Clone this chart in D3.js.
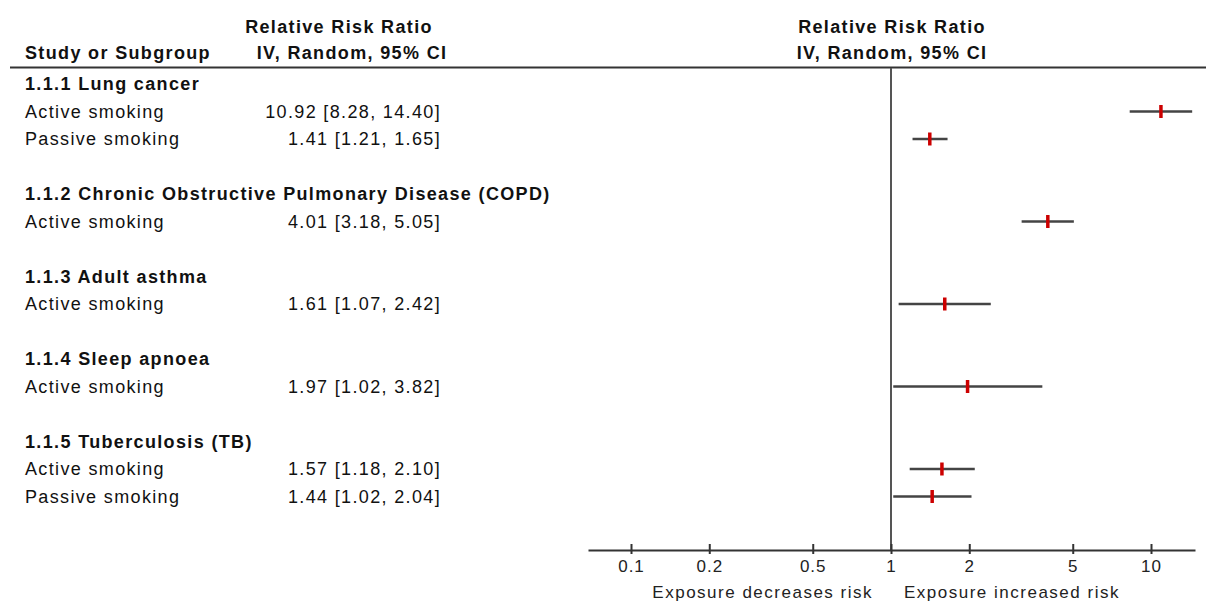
<!DOCTYPE html>
<html>
<head>
<meta charset="utf-8">
<script src="https://cdn.jsdelivr.net/npm/d3@7"></script>
<style>
  html, body { margin: 0; padding: 0; background: #fff; }
  svg { display: block; font-family: "Liberation Sans", Arial, sans-serif; }
</style>
</head>
<body>
<svg id="chart" width="1206" height="605"></svg>
<script>
// ---- data ----
const groups = [
  "1.1.1 Lung cancer",
  "1.1.2 Chronic Obstructive Pulmonary Disease (COPD)",
  "1.1.3 Adult asthma",
  "1.1.4 Sleep apnoea",
  "1.1.5 Tuberculosis (TB)"
];
const studyGroup  = [0, 0, 1, 2, 3, 4, 4];
const studyLabels = ["Active smoking", "Passive smoking", "Active smoking", "Active smoking",
                     "Active smoking", "Active smoking", "Passive smoking"];
const rr    = [10.92, 1.41, 4.01, 1.61, 1.97, 1.57, 1.44];
const lower = [8.28, 1.21, 3.18, 1.07, 1.02, 1.18, 1.02];
const upper = [14.40, 1.65, 5.05, 2.42, 3.82, 2.10, 2.04];
const tickValues = [0.1, 0.2, 0.5, 1, 2, 5, 10];
const headerLeft  = ["Relative Risk Ratio", "IV, Random, 95% CI"];
const headerRight = ["Relative Risk Ratio", "IV, Random, 95% CI"];
const colTitle = "Study or Subgroup";
const axisLabels = ["Exposure decreases risk", "Exposure increased risk"];

// ---- layout rows ----
const rows = [];
let idx = 0;
groups.forEach((g, gi) => {
  rows.push({ type: "group", label: g, row: idx++ });
  studyGroup.forEach((sg, si) => {
    if (sg === gi) rows.push({ type: "study", i: si, row: idx++ });
  });
  if (gi < groups.length - 1) idx++; // blank spacer row
});
const nRows = idx;

const svg = d3.select("#chart");
const y = d3.scaleLinear().domain([0, nRows - 1]).range([84, 496.5]);

const base = d3.scaleLog().domain([0.1, 10]).range([631, 1151]);
const x = d3.scaleLog().domain([base.invert(588), base.invert(1195)]).range([588, 1195]);

const FS = 18, LS = "1.35px";
const txt = "#111";

// headers
svg.append("text").attr("x", 25).attr("y", 53).attr("dy", "0.35em")
  .attr("font-size", FS).attr("font-weight", "bold").attr("letter-spacing", LS)
  .attr("fill", txt).text(colTitle);
headerLeft.forEach((t, i) => {
  svg.append("text").attr("x", i === 0 ? 339 : 352).attr("y", i === 0 ? 27 : 53).attr("dy", "0.35em")
    .attr("text-anchor", "middle")
    .attr("font-size", FS).attr("font-weight", "bold").attr("letter-spacing", LS)
    .attr("fill", txt).text(t);
});
headerRight.forEach((t, i) => {
  svg.append("text").attr("x", x(1) + 1).attr("y", i === 0 ? 27 : 53).attr("dy", "0.35em")
    .attr("text-anchor", "middle")
    .attr("font-size", FS).attr("font-weight", "bold").attr("letter-spacing", LS)
    .attr("fill", txt).text(t);
});

// header rule
svg.append("line").attr("x1", 10).attr("x2", 1206).attr("y1", 67.5).attr("y2", 67.5)
  .attr("stroke", "#333").attr("stroke-width", 2);

// reference line at 1
svg.append("line").attr("x1", x(1)).attr("x2", x(1)).attr("y1", 68).attr("y2", 550)
  .attr("stroke", "#555").attr("stroke-width", 2);

// rows
const fmt = d3.format(".2f");
rows.forEach(r => {
  if (r.type === "group") {
    svg.append("text").attr("x", 25).attr("y", y(r.row)).attr("dy", "0.35em")
      .attr("font-size", FS).attr("font-weight", "bold").attr("letter-spacing", LS)
      .attr("fill", txt).text(r.label);
  } else {
    const i = r.i;
    svg.append("text").attr("x", 25).attr("y", y(r.row)).attr("dy", "0.35em")
      .attr("font-size", FS).attr("letter-spacing", LS)
      .attr("fill", txt).text(studyLabels[i]);
    svg.append("text").attr("x", 441).attr("y", y(r.row)).attr("dy", "0.35em")
      .attr("text-anchor", "end")
      .attr("font-size", FS).attr("letter-spacing", LS)
      .attr("fill", txt).text(`${fmt(rr[i])} [${fmt(lower[i])}, ${fmt(upper[i])}]`);
    svg.append("line").attr("x1", x(lower[i])).attr("x2", x(upper[i]))
      .attr("y1", y(r.row)).attr("y2", y(r.row))
      .attr("stroke", "#444").attr("stroke-width", 2.5);
    svg.append("line").attr("x1", x(rr[i])).attr("x2", x(rr[i]))
      .attr("y1", y(r.row) - 6.5).attr("y2", y(r.row) + 6.5)
      .attr("stroke", "#cc0000").attr("stroke-width", 3.5);
  }
});

// axis
const axisY = 550;
const ax = svg.append("g").attr("transform", `translate(0,${axisY})`)
  .call(d3.axisBottom(x).tickValues(tickValues).tickFormat(d => String(d))
        .tickSizeOuter(0).tickSizeInner(4).tickPadding(6));
ax.select(".domain").attr("stroke", "#333").attr("stroke-width", 2);
ax.selectAll(".tick line").attr("y1", -6).attr("y2", 4).attr("stroke", "#333").attr("stroke-width", 2);
ax.selectAll(".tick text").attr("font-size", 17).attr("letter-spacing", "1px")
  .attr("fill", "#222").attr("font-family", "Liberation Sans, Arial, sans-serif");

svg.append("text").attr("x", x(1) - 18).attr("y", 592).attr("dy", "0.35em")
  .attr("text-anchor", "end").attr("font-size", 17).attr("letter-spacing", "1.5px")
  .attr("fill", "#222").text(axisLabels[0]);
svg.append("text").attr("x", x(1) + 13).attr("y", 592).attr("dy", "0.35em")
  .attr("text-anchor", "start").attr("font-size", 17).attr("letter-spacing", "1.5px")
  .attr("fill", "#222").text(axisLabels[1]);
</script>
</body>
</html>
